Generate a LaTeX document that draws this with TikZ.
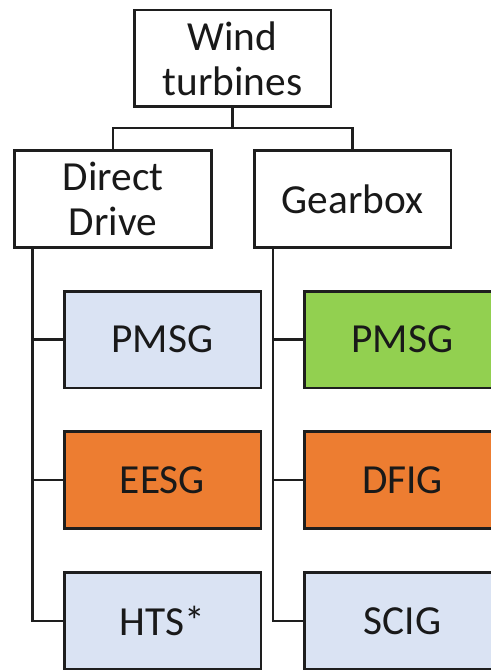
\documentclass[tikz,border=0pt]{standalone}
\usepackage{fontspec}
\setmainfont{Carlito}
\definecolor{boxline}{HTML}{1E1E1E}
\definecolor{paleblue}{HTML}{DAE3F3}
\definecolor{orangefill}{HTML}{ED7D31}
\definecolor{greenfill}{HTML}{92D050}
\begin{document}
\begin{tikzpicture}[x=0.75pt,y=-0.75pt,
  box/.style={draw=boxline,line width=1.9pt,minimum width=147.4pt,minimum height=72.4pt,
    inner sep=0pt,align=center,text=black!90,
    font=\fontsize{31}{34}\selectfont},
  conn/.style={draw=boxline,line width=1.9pt}]
\clip (0,0) rectangle (491,670);
\fill[white] (0,0) rectangle (491,670);

% category headings
\node[box] (wt) at (232.5,58.5) {Wind\\turbines};
\node[box] (dd) at (113,199) {Direct\\Drive};
\node[box] (gb) at (352.5,199) {Gearbox};

% direct drive generators
\node[box,fill=paleblue]   (dpm) at (162.5,339.5) {PMSG};
\node[box,fill=orangefill] (dee) at (162.5,480)   {EESG};
\node[box,fill=paleblue]   (dht) at (162.5,621)   {HTS*};

% geared generators
\node[box,fill=greenfill]  (gpm) at (402.5,339.5) {PMSG};
\node[box,fill=orangefill] (gdf) at (402.5,480)   {DFIG};
\node[box,fill=paleblue]   (gsc) at (402.5,621)   {SCIG};

% tree connectors
\draw[conn] (wt.south) -- ++(0,20) coordinate (j);
\draw[conn] (dd.north) |- (j) -| (gb.north);

\path (dd.south west) ++(19,0) coordinate (dtrunk);
\draw[conn] (dtrunk) |- (dht.west);
\draw[conn] (dtrunk) |- (dpm.west);
\draw[conn] (dtrunk) |- (dee.west);

\path (gb.south west) ++(20,0) coordinate (gtrunk);
\draw[conn] (gtrunk) |- (gsc.west);
\draw[conn] (gtrunk) |- (gpm.west);
\draw[conn] (gtrunk) |- (gdf.west);
\end{tikzpicture}
\end{document}
